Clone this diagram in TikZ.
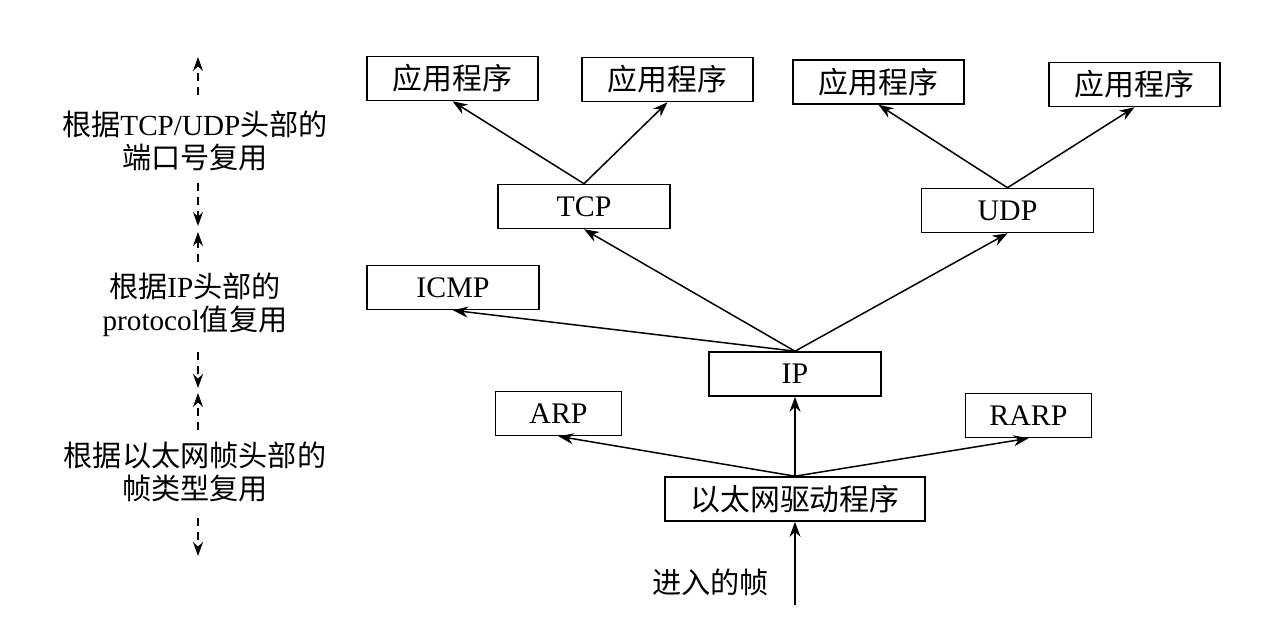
\documentclass[tikz,border=0pt]{standalone}
\usepackage{fontspec}
\setmainfont{Liberation Serif}
\newfontfamily\cjk{Noto Sans CJK SC}
\usetikzlibrary{arrows.meta}
\newcommand{\zh}[1]{{\cjk #1}}
\tikzset{
  layer/.style={draw, line width=0.9pt, minimum height=0.88cm, inner sep=0pt, font=\fontsize{17}{20}\selectfont},
  kapp/.style={layer, minimum width=3.42cm}, kproto/.style={layer, minimum width=3.44cm},
  ksmall/.style={layer, minimum width=2.52cm}, kdriver/.style={layer, minimum width=5.2cm},
  note/.style={align=center, font=\fontsize{16.6}{19}\selectfont},
  flow/.style={-{Stealth[length=3mm, width=2.2mm]}, line width=0.85pt},
  span/.style={-{Stealth[length=2.8mm, width=2mm]}, line width=0.75pt, dash pattern=on 1.6mm off 1.2mm},
}

\begin{document}
\begin{tikzpicture}
    \useasboundingbox (0,0) rectangle (25.22,12.46);
    % protocol boxes
    \node[kapp] (app1) at (9.05,10.89) {\zh{应用程序}};
    \node[kapp] (app2) at (13.35,10.87) {\zh{应用程序}};
    \node[kapp] (app3) at (17.57,10.82) {\zh{应用程序}};
    \node[kapp] (app4) at (22.69,10.77) {\zh{应用程序}};
    \node[kproto] (tcp) at (11.68,8.33) {TCP};
    \node[kproto] (udp) at (20.15,8.25) {UDP};
    \node[kproto] (icmp) at (9.06,6.71) {ICMP};
    \node[kproto] (ip) at (15.90,4.98) {IP};
    \node[ksmall] (arp) at (11.17,4.19) {ARP};
    \node[ksmall] (rarp) at (20.57,4.15) {RARP};
    \node[kdriver] (eth) at (15.90,2.48) {\zh{以太网驱动程序}};
    \coordinate (wire) at (15.90,0.36);
    \node[note, anchor=east] (inframe) at (15.50,0.82) {\zh{进入的帧}};
    % demultiplexing notes
    \node[note] (portmux) at (3.90,9.64) {\zh{根据}TCP/UDP\zh{头部的}\\\zh{端口号复用}};
    \node[note] (protomux) at (3.90,6.36) {\zh{根据}IP\zh{头部的}\\protocol\zh{值复用}};
    \node[note] (typemux) at (3.90,3.02) {\zh{根据以太网帧头部的}\\\zh{帧类型复用}};
    \coordinate (s1a) at (3.96,10.56); \coordinate (s1b) at (3.96,11.32);
    \coordinate (s2a) at (3.96,8.80); \coordinate (s2b) at (3.96,7.94);
    \coordinate (s3a) at (3.96,7.22); \coordinate (s3b) at (3.96,7.82);
    \coordinate (s4a) at (3.96,5.42); \coordinate (s4b) at (3.96,4.70);
    \coordinate (s5a) at (3.96,3.86); \coordinate (s5b) at (3.96,4.60);
    \coordinate (s6a) at (3.96,2.10); \coordinate (s6b) at (3.96,1.34);
    \draw[span] (s1a) -- (s1b);
    \draw[span] (s2a) -- (s2b);
    \draw[span] (s3a) -- (s3b);
    \draw[span] (s4a) -- (s4b);
    \draw[span] (s5a) -- (s5b);
    \draw[span] (s6a) -- (s6b);
    % upward flow
    \draw[flow] (wire) -- (eth);
    \draw[flow] (eth.north) -- (arp.south);
    \draw[flow] (eth.north) -- (ip.south);
    \draw[flow] (eth.north) -- (rarp.south);
    \draw[flow] (ip.north) -- (icmp.south);
    \draw[flow] (ip.north) -- (tcp.south);
    \draw[flow] (ip.north) -- (udp.south);
    \draw[flow] (tcp.north) -- (app1.south);
    \draw[flow] (tcp.north) -- (app2.south);
    \draw[flow] (udp.north) -- (app3.south);
    \draw[flow] (udp.north) -- (app4.south);
  \end{tikzpicture}
\end{document}
